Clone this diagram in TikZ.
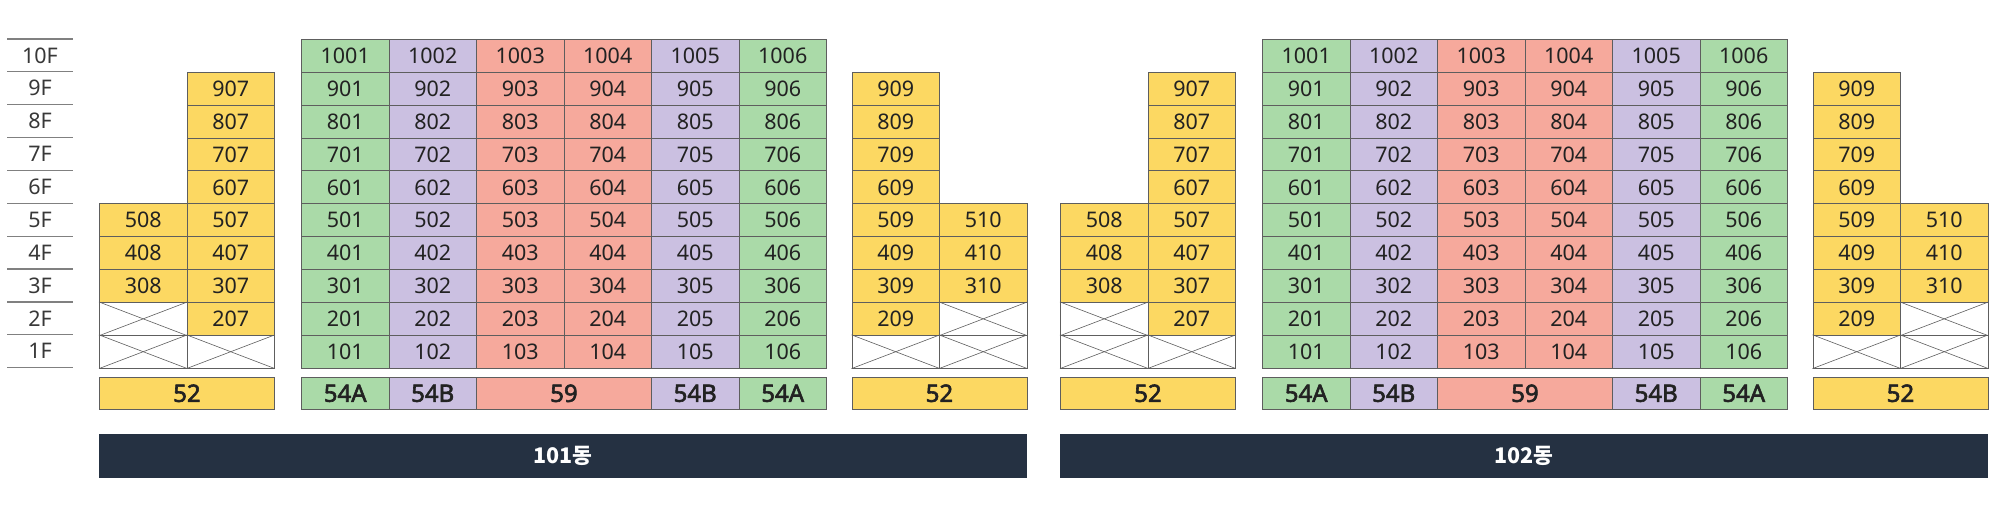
\documentclass[tikz,border=0pt]{standalone}
\usepackage{fontspec}
\setmainfont{Noto Sans}
\newfontfamily\medfont[FakeBold=2.5]{Noto Sans}
\newfontfamily\krfont{Noto Sans CJK KR}
\definecolor{cy}{HTML}{FCD862}
\definecolor{cg}{HTML}{AADAA8}
\definecolor{cp}{HTML}{CBC0E1}
\definecolor{cs}{HTML}{F6A99C}
\definecolor{cdark}{HTML}{253142}
\definecolor{bordc}{HTML}{5E5E5E}
\definecolor{txt}{HTML}{222222}
\definecolor{flc}{HTML}{808080}
\tikzset{
  unit/.style={draw=bordc, line width=0.9pt, minimum width=87.5pt, minimum height=32.87pt,
    inner sep=0pt, anchor=north west, text=txt, font=\fontsize{21.5}{21.5}\selectfont},
  xcell/.style={unit, fill=white},
  xline/.style={draw=bordc, line width=0.6pt},
  base/.style={draw=bordc, line width=0.9pt, minimum height=32.3pt, inner sep=0pt,
    anchor=north west, text=txt, font=\fontsize{24}{24}\medfont},
  bar/.style={fill=cdark, draw=none, minimum width=927.5pt, minimum height=44.5pt, inner sep=0pt,
    anchor=north west, text=white, font=\fontsize{21.5}{21.5}\krfont\bfseries},
  flabel/.style={inner sep=0pt, text=txt!90, font=\fontsize{21.5}{21.5}\selectfont},
  fline/.style={draw=flc, line width=1.2pt}
}
\begin{document}
\begin{tikzpicture}[x=1pt,y=-1pt]
\useasboundingbox (0,0) rectangle (2000,511);
% floor labels
\foreach \k in {0,...,10} {
  \coordinate (fl\k) at (7,{39+\k*32.87});
  \coordinate (fr\k) at (73,{39+\k*32.87});
  \draw[fline] (fl\k) -- (fr\k);
}
\foreach \f in {1,...,10} {
  \node[flabel] (floor\f) at (40,{39+(10-\f+0.5)*32.87}) {\f F};
}
\foreach \b/\o in {101/0,102/961} {
  % column A (x08)
  \foreach \f in {3,4,5}
    \node[unit, fill=cy] (u\b-\f08) at ({99+\o},{39+(10-\f)*32.87}) {\f08};
  % column B (x07)
  \foreach \f in {2,...,9}
    \node[unit, fill=cy] (u\b-\f07) at ({186.5+\o},{39+(10-\f)*32.87}) {\f07};
  % tower
  \foreach \c/\col in {1/cg,2/cp,3/cs,4/cs,5/cp,6/cg}
    \foreach \f in {1,...,10}
      \node[unit, fill=\col] (u\b-\f0\c) at ({301+\o+(\c-1)*87.5},{39+(10-\f)*32.87}) {\f0\c};
  % column C (x09)
  \foreach \f in {2,...,9}
    \node[unit, fill=cy] (u\b-\f09) at ({851.5+\o},{39+(10-\f)*32.87}) {\f09};
  % column D (x10)
  \foreach \f in {3,4,5}
    \node[unit, fill=cy] (u\b-\f10) at ({939+\o},{39+(10-\f)*32.87}) {\f10};
  % crossed cells
  \foreach \n/\x/\f in {A1/99/1,A2/99/2,B1/186.5/1,C1/851.5/1,D1/939/1,D2/939/2} {
    \node[xcell] (x\b\n) at ({\x+\o},{39+(10-\f)*32.87}) {};
    \draw[xline] (x\b\n.north west) -- (x\b\n.south east);
    \draw[xline] (x\b\n.south west) -- (x\b\n.north east);
  }
  % base types
  \node[base, fill=cy, minimum width=175pt] (t\b a) at ({99+\o},376.7) {52};
  \node[base, fill=cg, minimum width=87.5pt] (t\b b) at ({301+\o},376.7) {54A};
  \node[base, fill=cp, minimum width=87.5pt] (t\b c) at ({388.5+\o},376.7) {54B};
  \node[base, fill=cs, minimum width=175pt] (t\b d) at ({476+\o},376.7) {59};
  \node[base, fill=cp, minimum width=87.5pt] (t\b e) at ({651+\o},376.7) {54B};
  \node[base, fill=cg, minimum width=87.5pt] (t\b f) at ({738.5+\o},376.7) {54A};
  \node[base, fill=cy, minimum width=175pt] (t\b g) at ({851.5+\o},376.7) {52};
  % building bar
  \node[bar] (bar\b) at ({99+\o},433.5) {\b{}동};
}
\end{tikzpicture}
\end{document}
